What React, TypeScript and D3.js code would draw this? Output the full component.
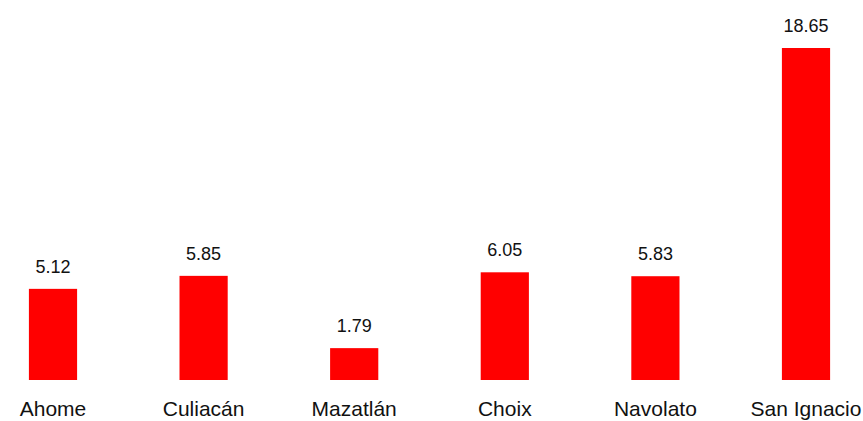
import React from "react";
import * as d3 from "d3";

const categories = ["Ahome", "Culiacán", "Mazatlán", "Choix", "Navolato", "San Ignacio"];
const values = [5.12, 5.85, 1.79, 6.05, 5.83, 18.65];

const W = 863;
const H = 421;

export default function App() {
  const x = d3
    .scaleBand<string>()
    .domain(categories)
    .range([-22.3, 881.3])
    .paddingInner(0.68)
    .paddingOuter(0.34);
  const y = d3.scaleLinear().domain([0, 18.65]).range([380, 48]);
  const data = categories.map((c, i) => ({ c, v: values[i] }));
  return (
    <svg
      width={W}
      height={H}
      style={{ position: "absolute", left: 0, top: 0, background: "#fff" }}
      fontFamily="Liberation Sans, Arial, sans-serif"
    >
      {data.map((d) => (
        <g key={d.c}>
          <rect
            x={x(d.c)}
            y={y(d.v)}
            width={x.bandwidth()}
            height={y(0) - y(d.v)}
            fill="#ff0000"
          />
          <text
            x={(x(d.c) as number) + x.bandwidth() / 2}
            y={y(d.v) - 16}
            textAnchor="middle"
            fontSize={18}
            fill="#111"
          >
            {d.v.toFixed(2)}
          </text>
          <text
            x={(x(d.c) as number) + x.bandwidth() / 2}
            y={416}
            textAnchor="middle"
            fontSize={21}
            fill="#111"
          >
            {d.c}
          </text>
        </g>
      ))}
    </svg>
  );
}
